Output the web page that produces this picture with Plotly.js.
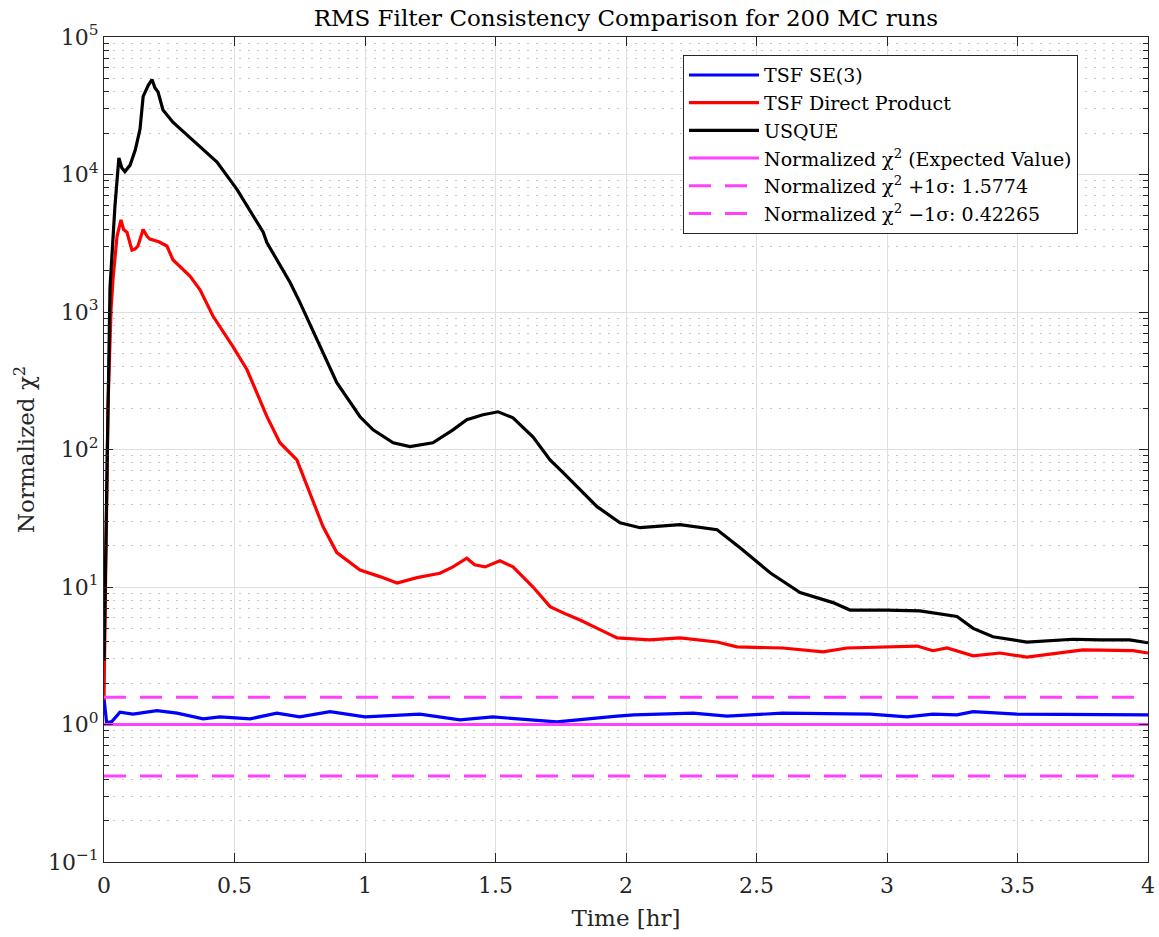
<!DOCTYPE html>
<html>
<head>
<meta charset="utf-8">
<script src="https://cdn.plot.ly/plotly-3.0.1.min.js"></script>
<style>html,body{margin:0;padding:0;background:#fff;}#chart{width:1159px;height:937px;}</style>
</head>
<body>
<div id="chart"></div>
<script>
// ---- Data ----
const usqueT = [0, 0.023, 0.042, 0.05, 0.057, 0.068, 0.08, 0.1, 0.12, 0.138, 0.15, 0.17, 0.184, 0.195, 0.207, 0.226, 0.264, 0.34, 0.433, 0.51, 0.533, 0.61, 0.624, 0.713, 0.751, 0.815, 0.892, 0.981, 1.031, 1.108, 1.172, 1.26, 1.337, 1.39, 1.452, 1.51, 1.567, 1.644, 1.709, 1.759, 1.889, 1.977, 2.054, 2.207, 2.349, 2.437, 2.552, 2.667, 2.793, 2.858, 3.0, 3.126, 3.268, 3.33, 3.406, 3.536, 3.713, 3.816, 3.93, 4.0];
const usqueV = [2.9, 1500, 5900, 9800, 13200, 11200, 10500, 11700, 15100, 21400, 37000, 44700, 49000, 42700, 39800, 29500, 24000, 17800, 12300, 7760, 6580, 3800, 3200, 1640, 1170, 631, 306, 173, 139, 112, 105, 112, 139, 165, 179, 188, 170, 123, 84, 68, 38.4, 29.3, 27, 28.4, 26.1, 19.3, 12.7, 9.1, 7.7, 6.8, 6.8, 6.7, 6.1, 5.0, 4.35, 3.98, 4.17, 4.12, 4.12, 3.93];

const dpT = [0, 0.015, 0.027, 0.035, 0.05, 0.065, 0.075, 0.088, 0.107, 0.12, 0.13, 0.15, 0.165, 0.176, 0.21, 0.241, 0.264, 0.33, 0.368, 0.418, 0.494, 0.548, 0.624, 0.674, 0.739, 0.789, 0.839, 0.892, 0.981, 1.057, 1.123, 1.199, 1.287, 1.337, 1.39, 1.42, 1.46, 1.517, 1.567, 1.644, 1.709, 1.774, 1.824, 1.9, 1.966, 2.09, 2.207, 2.349, 2.425, 2.6, 2.755, 2.847, 3.0, 3.115, 3.176, 3.23, 3.33, 3.433, 3.536, 3.751, 3.943, 4.0];
const dpV = [1.5, 200, 1050, 1780, 3550, 4680, 3980, 3800, 2820, 2880, 3020, 3980, 3550, 3390, 3240, 3020, 2400, 1820, 1450, 930, 560, 380, 174, 112, 84, 48.5, 27.5, 17.8, 13.3, 11.9, 10.7, 11.7, 12.6, 14, 16.2, 14.5, 14, 15.5, 14, 10, 7.2, 6.3, 5.75, 4.9, 4.27, 4.12, 4.27, 3.98, 3.67, 3.6, 3.37, 3.6, 3.67, 3.72, 3.44, 3.6, 3.16, 3.31, 3.09, 3.49, 3.44, 3.31];

const se3T = [0, 0.01, 0.03, 0.061, 0.111, 0.203, 0.28, 0.38, 0.444, 0.56, 0.662, 0.75, 0.866, 1.0, 1.21, 1.364, 1.49, 1.735, 1.966, 2.03, 2.257, 2.387, 2.6, 2.935, 3.077, 3.176, 3.268, 3.33, 3.498, 3.855, 4.0];
const se3V = [1.55, 1.03, 1.05, 1.23, 1.19, 1.26, 1.21, 1.10, 1.135, 1.10, 1.21, 1.135, 1.24, 1.135, 1.19, 1.08, 1.135, 1.045, 1.15, 1.175, 1.21, 1.15, 1.21, 1.19, 1.135, 1.19, 1.175, 1.24, 1.19, 1.175, 1.175];

const refT = [0, 4];
const expectedValue = 1;
const plusSigma = 1.5774;
const minusSigma = 0.42265;

const seriesNames = ['TSF SE(3)', 'TSF Direct Product', 'USQUE',
  'Normalized χ<sup>2</sup> (Expected Value)',
  'Normalized χ<sup>2</sup> +1σ: 1.5774',
  'Normalized χ<sup>2</sup> −1σ: 0.42265'];

const yTickVals = [0.1, 1, 10, 100, 1000, 10000, 100000];
const yTickText = ['10<sup>−1</sup>', '10<sup>0</sup>', '10<sup>1</sup>', '10<sup>2</sup>', '10<sup>3</sup>', '10<sup>4</sup>', '10<sup>5</sup>'];
const xTickVals = [0, 0.5, 1, 1.5, 2, 2.5, 3, 3.5, 4];
const xTickText = ['0', '0.5', '1', '1.5', '2', '2.5', '3', '3.5', '4'];

// minor log ticks 2..9 per decade
const yMinor = [];
for (let e = -1; e < 5; e++) for (let m = 2; m <= 9; m++) yMinor.push(m * Math.pow(10, e));

const magenta = '#ff40ff';
const FONT = 'DejaVu Serif, Liberation Serif, serif';
const traces = [
  {x: se3T, y: se3V, name: seriesNames[0], mode: 'lines', line: {color: '#0000ff', width: 3.2}},
  {x: dpT, y: dpV, name: seriesNames[1], mode: 'lines', line: {color: '#ff0000', width: 3.2}},
  {x: usqueT, y: usqueV, name: seriesNames[2], mode: 'lines', line: {color: '#000000', width: 3.2}},
  {x: refT, y: refT.map(() => expectedValue), name: seriesNames[3], mode: 'lines', line: {color: magenta, width: 3}},
  {x: refT, y: refT.map(() => plusSigma), name: seriesNames[4], mode: 'lines', line: {color: magenta, width: 3, dash: '22px,14px'}},
  {x: refT, y: refT.map(() => minusSigma), name: seriesNames[5], mode: 'lines', line: {color: magenta, width: 3, dash: '22px,14px'}}
];

const layout = {
  width: 1159, height: 937,
  margin: {l: 104, r: 11, t: 37, b: 75},
  paper_bgcolor: '#fff', plot_bgcolor: '#fff',
  font: {family: FONT, color: '#262626', size: 18},
  title: {text: 'RMS Filter Consistency Comparison for 200 MC runs', x: 0.54, xanchor: 'center', y: 0.981, yanchor: 'middle', font: {family: FONT, size: 23, color: '#000'}},
  showlegend: true,
  legend: {x: 0.5546, y: 0.978, xanchor: 'left', yanchor: 'top', bgcolor: '#fff', bordercolor: '#262626', borderwidth: 1,
    font: {family: FONT, size: 19, color: '#000'}, itemwidth: 70, tracegroupgap: 0},
  xaxis: {range: [0, 4], tickmode: 'array', tickvals: xTickVals, ticktext: xTickText,
    ticks: 'inside', ticklen: 9, tickcolor: '#262626', showline: true, linecolor: '#262626', linewidth: 1, mirror: 'ticks',
    showgrid: true, gridcolor: '#dfdfdf', gridwidth: 1, zeroline: false, ticklabelstandoff: 4,
    tickfont: {family: FONT, size: 22, color: '#262626'},
    title: {text: 'Time [hr]', font: {family: FONT, size: 23, color: '#262626'}, standoff: 12}},
  yaxis: {type: 'log', range: [-1, 5], tickmode: 'array', tickvals: yTickVals, ticktext: yTickText,
    ticks: 'inside', ticklen: 9, tickcolor: '#262626', showline: true, linecolor: '#262626', linewidth: 1, mirror: 'ticks',
    showgrid: true, gridcolor: '#dfdfdf', gridwidth: 1, zeroline: false,
    tickfont: {family: FONT, size: 22, color: '#262626'},
    minor: {tickmode: 'array', tickvals: yMinor, ticks: 'inside', ticklen: 5, tickcolor: '#262626',
      showgrid: true, gridcolor: '#c8c8c8', griddash: '2px,7px', gridwidth: 1},
    title: {text: 'Normalized χ<sup>2</sup>', font: {family: FONT, size: 23, color: '#262626'}, standoff: 6}}
};

Plotly.newPlot('chart', traces, layout, {displayModeBar: false, staticPlot: true});
</script>
</body>
</html>
